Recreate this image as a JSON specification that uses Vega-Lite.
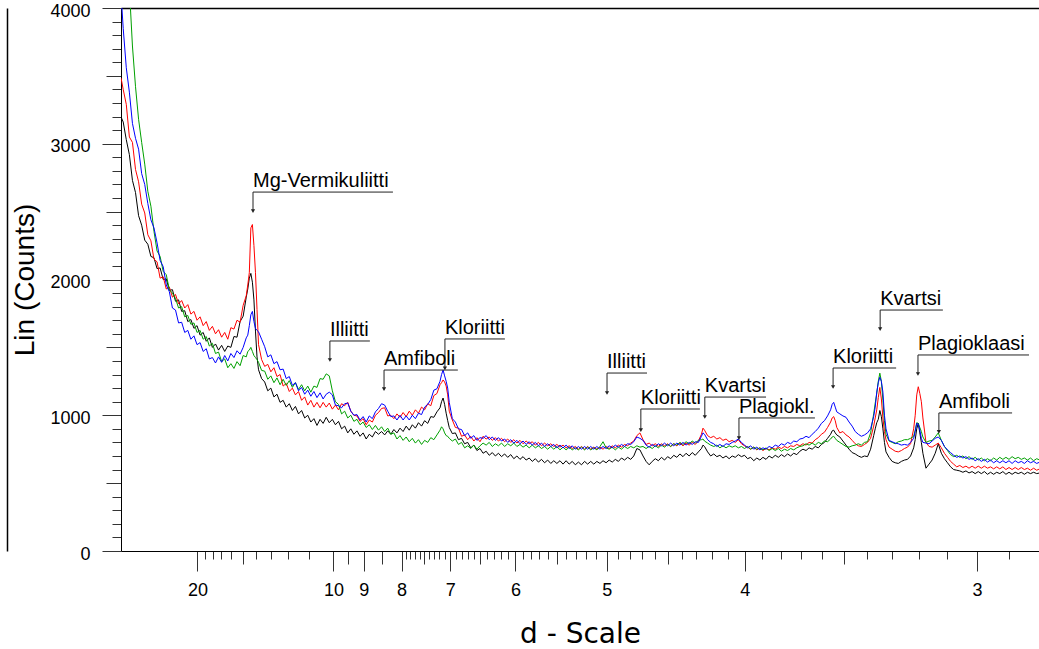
{
"$schema": "https://vega.github.io/schema/vega-lite/v6.json",
"width": 918, "height": 543,
"autosize": {"type": "none"},
"padding": {"left": 121, "top": 8, "right": 0, "bottom": 98},
"background": "white",
"config": {"view": {"stroke": null}, "font": "Liberation Sans"},
"resolve": {"axis": {"x": "independent", "y": "independent"}},
"datasets": {
"xrd": [
{"t":1.93,"k":3197,"r":3484,"g":5600,"b":4100},
{"t":2.0,"k":3160,"r":3400,"g":5000,"b":3850},
{"t":2.1,"k":3030,"r":3290,"g":4500,"b":3560},
{"t":2.2,"k":2920,"r":3050,"g":4150,"b":3380},
{"t":2.3,"k":2730,"r":3010,"g":3720,"b":3150},
{"t":2.4,"k":2640,"r":2810,"g":3420,"b":3040},
{"t":2.5,"k":2470,"r":2720,"g":3180,"b":2960},
{"t":2.6,"k":2400,"r":2555,"g":3010,"b":2780},
{"t":2.7,"k":2290,"r":2490,"g":2850,"b":2700},
{"t":2.8,"k":2260,"r":2330,"g":2650,"b":2560},
{"t":2.9,"k":2170,"r":2285,"g":2540,"b":2440},
{"t":3.0,"k":2160,"r":2150,"g":2355,"b":2380},
{"t":3.1,"k":2080,"r":2130,"g":2210,"b":2270},
{"t":3.2,"k":2085,"r":2010,"g":2170,"b":2140},
{"t":3.3,"k":2000,"r":2020,"g":2060,"b":2095},
{"t":3.4,"k":2005,"r":1930,"g":2035,"b":1960},
{"t":3.5,"k":1920,"r":1945,"g":1925,"b":1910},
{"t":3.6,"k":1925,"r":1870,"g":1900,"b":1790},
{"t":3.7,"k":1840,"r":1890,"g":1860,"b":1775},
{"t":3.8,"k":1850,"r":1820,"g":1790,"b":1680},
{"t":3.9,"k":1765,"r":1845,"g":1800,"b":1685},
{"t":4.0,"k":1770,"r":1790,"g":1725,"b":1610},
{"t":4.1,"k":1690,"r":1815,"g":1735,"b":1625},
{"t":4.2,"k":1705,"r":1745,"g":1670,"b":1560},
{"t":4.3,"k":1640,"r":1765,"g":1680,"b":1585},
{"t":4.4,"k":1660,"r":1700,"g":1610,"b":1520},
{"t":4.5,"k":1590,"r":1725,"g":1625,"b":1535},
{"t":4.6,"k":1610,"r":1660,"g":1560,"b":1470},
{"t":4.7,"k":1545,"r":1690,"g":1580,"b":1490},
{"t":4.8,"k":1570,"r":1625,"g":1510,"b":1415},
{"t":4.9,"k":1500,"r":1655,"g":1530,"b":1425},
{"t":5.0,"k":1525,"r":1600,"g":1455,"b":1385},
{"t":5.1,"k":1480,"r":1630,"g":1465,"b":1430},
{"t":5.2,"k":1515,"r":1575,"g":1395,"b":1390},
{"t":5.3,"k":1470,"r":1610,"g":1415,"b":1440},
{"t":5.4,"k":1510,"r":1560,"g":1350,"b":1400},
{"t":5.5,"k":1500,"r":1645,"g":1380,"b":1455},
{"t":5.6,"k":1580,"r":1635,"g":1345,"b":1425},
{"t":5.7,"k":1575,"r":1700,"g":1395,"b":1475},
{"t":5.8,"k":1690,"r":1685,"g":1365,"b":1450},
{"t":5.9,"k":1730,"r":1810,"g":1440,"b":1500},
{"t":6.0,"k":1870,"r":1880,"g":1430,"b":1570},
{"t":6.05,"k":1930,"r":1960,"g":1470,"b":1590},
{"t":6.1,"k":2010,"r":2050,"g":1480,"b":1660},
{"t":6.15,"k":2045,"r":2380,"g":1500,"b":1740},
{"t":6.2,"k":1980,"r":2405,"g":1470,"b":1765},
{"t":6.25,"k":1850,"r":2250,"g":1440,"b":1690},
{"t":6.3,"k":1620,"r":2050,"g":1425,"b":1640},
{"t":6.35,"k":1430,"r":1780,"g":1410,"b":1625},
{"t":6.4,"k":1335,"r":1520,"g":1390,"b":1615},
{"t":6.5,"k":1270,"r":1410,"g":1330,"b":1560},
{"t":6.6,"k":1245,"r":1360,"g":1325,"b":1505},
{"t":6.7,"k":1180,"r":1375,"g":1265,"b":1430},
{"t":6.8,"k":1200,"r":1320,"g":1290,"b":1445},
{"t":6.9,"k":1135,"r":1350,"g":1240,"b":1380},
{"t":7.0,"k":1155,"r":1285,"g":1275,"b":1395},
{"t":7.1,"k":1095,"r":1300,"g":1225,"b":1335},
{"t":7.2,"k":1110,"r":1215,"g":1265,"b":1340},
{"t":7.3,"k":1060,"r":1235,"g":1220,"b":1270},
{"t":7.4,"k":1085,"r":1175,"g":1255,"b":1285},
{"t":7.5,"k":1035,"r":1200,"g":1205,"b":1220},
{"t":7.6,"k":1065,"r":1150,"g":1240,"b":1240},
{"t":7.7,"k":1010,"r":1175,"g":1190,"b":1180},
{"t":7.8,"k":1035,"r":1110,"g":1225,"b":1205},
{"t":7.9,"k":980,"r":1135,"g":1180,"b":1155},
{"t":8.0,"k":1000,"r":1075,"g":1215,"b":1185},
{"t":8.1,"k":950,"r":1110,"g":1170,"b":1140},
{"t":8.2,"k":975,"r":1060,"g":1215,"b":1175},
{"t":8.3,"k":925,"r":1095,"g":1205,"b":1130},
{"t":8.4,"k":970,"r":1055,"g":1270,"b":1165},
{"t":8.5,"k":940,"r":1095,"g":1265,"b":1120},
{"t":8.6,"k":985,"r":1060,"g":1305,"b":1155},
{"t":8.7,"k":945,"r":1090,"g":1290,"b":1170},
{"t":8.8,"k":970,"r":1045,"g":1180,"b":1150},
{"t":8.9,"k":930,"r":1075,"g":1100,"b":1075},
{"t":9.0,"k":955,"r":1040,"g":1080,"b":1070},
{"t":9.1,"k":900,"r":1085,"g":1010,"b":1055},
{"t":9.2,"k":920,"r":1070,"g":1030,"b":1085},
{"t":9.3,"k":870,"r":1095,"g":980,"b":1090},
{"t":9.4,"k":900,"r":1030,"g":1000,"b":1030},
{"t":9.5,"k":860,"r":1000,"g":955,"b":1000},
{"t":9.6,"k":885,"r":995,"g":970,"b":1005},
{"t":9.7,"k":845,"r":955,"g":930,"b":965},
{"t":9.8,"k":870,"r":975,"g":950,"b":990},
{"t":9.9,"k":825,"r":930,"g":910,"b":950},
{"t":10.0,"k":860,"r":965,"g":930,"b":995},
{"t":10.1,"k":840,"r":950,"g":895,"b":975},
{"t":10.2,"k":880,"r":1000,"g":925,"b":1025},
{"t":10.3,"k":860,"r":1020,"g":890,"b":1050},
{"t":10.4,"k":880,"r":1050,"g":915,"b":1085},
{"t":10.5,"k":855,"r":1055,"g":880,"b":1075},
{"t":10.6,"k":885,"r":995,"g":905,"b":1030},
{"t":10.7,"k":860,"r":1000,"g":860,"b":990},
{"t":10.8,"k":895,"r":975,"g":870,"b":995},
{"t":10.9,"k":870,"r":1010,"g":825,"b":965},
{"t":11.0,"k":905,"r":985,"g":850,"b":1000},
{"t":11.1,"k":880,"r":1020,"g":815,"b":965},
{"t":11.2,"k":920,"r":990,"g":840,"b":995},
{"t":11.3,"k":890,"r":1030,"g":805,"b":965},
{"t":11.4,"k":930,"r":1000,"g":830,"b":1000},
{"t":11.5,"k":905,"r":1040,"g":795,"b":975},
{"t":11.6,"k":945,"r":1015,"g":820,"b":1015},
{"t":11.7,"k":920,"r":1060,"g":785,"b":1005},
{"t":11.8,"k":960,"r":1040,"g":815,"b":1060},
{"t":11.9,"k":940,"r":1085,"g":800,"b":1080},
{"t":12.0,"k":990,"r":1070,"g":835,"b":1115},
{"t":12.1,"k":985,"r":1145,"g":820,"b":1185},
{"t":12.2,"k":1025,"r":1160,"g":855,"b":1195},
{"t":12.3,"k":1055,"r":1225,"g":890,"b":1250},
{"t":12.35,"k":1100,"r":1240,"g":915,"b":1300},
{"t":12.4,"k":1127,"r":1260,"g":900,"b":1333},
{"t":12.45,"k":1080,"r":1245,"g":870,"b":1290},
{"t":12.5,"k":1015,"r":1215,"g":850,"b":1250},
{"t":12.55,"k":960,"r":1150,"g":845,"b":1200},
{"t":12.6,"k":910,"r":1030,"g":830,"b":1095},
{"t":12.7,"k":865,"r":965,"g":810,"b":975},
{"t":12.8,"k":870,"r":910,"g":825,"b":950},
{"t":12.9,"k":820,"r":905,"g":785,"b":900},
{"t":13.0,"k":830,"r":845,"g":800,"b":895},
{"t":13.1,"k":790,"r":855,"g":760,"b":850},
{"t":13.2,"k":800,"r":820,"g":775,"b":870},
{"t":13.3,"k":760,"r":845,"g":755,"b":830},
{"t":13.4,"k":780,"r":810,"g":780,"b":850},
{"t":13.5,"k":740,"r":835,"g":750,"b":815},
{"t":13.6,"k":755,"r":805,"g":775,"b":835},
{"t":13.7,"k":720,"r":845,"g":795,"b":830},
{"t":13.8,"k":735,"r":825,"g":780,"b":850},
{"t":13.9,"k":705,"r":840,"g":800,"b":820},
{"t":14.0,"k":725,"r":815,"g":770,"b":840},
{"t":14.1,"k":700,"r":835,"g":790,"b":815},
{"t":14.2,"k":720,"r":810,"g":775,"b":835},
{"t":14.3,"k":695,"r":830,"g":795,"b":810},
{"t":14.4,"k":715,"r":805,"g":770,"b":825},
{"t":14.5,"k":690,"r":825,"g":790,"b":800},
{"t":14.6,"k":710,"r":800,"g":775,"b":820},
{"t":14.7,"k":680,"r":820,"g":795,"b":795},
{"t":14.8,"k":700,"r":795,"g":770,"b":815},
{"t":14.9,"k":675,"r":815,"g":785,"b":790},
{"t":15.0,"k":695,"r":790,"g":765,"b":810},
{"t":15.1,"k":670,"r":810,"g":780,"b":785},
{"t":15.2,"k":685,"r":790,"g":760,"b":805},
{"t":15.3,"k":660,"r":805,"g":780,"b":780},
{"t":15.4,"k":680,"r":780,"g":760,"b":800},
{"t":15.5,"k":655,"r":800,"g":775,"b":775},
{"t":15.6,"k":675,"r":775,"g":755,"b":795},
{"t":15.7,"k":650,"r":795,"g":770,"b":770},
{"t":15.8,"k":670,"r":775,"g":750,"b":790},
{"t":15.9,"k":645,"r":790,"g":770,"b":770},
{"t":16.0,"k":665,"r":770,"g":750,"b":785},
{"t":16.1,"k":645,"r":785,"g":770,"b":760},
{"t":16.2,"k":665,"r":765,"g":745,"b":780},
{"t":16.3,"k":640,"r":780,"g":765,"b":760},
{"t":16.4,"k":665,"r":760,"g":745,"b":780},
{"t":16.5,"k":640,"r":775,"g":765,"b":755},
{"t":16.6,"k":660,"r":755,"g":745,"b":775},
{"t":16.7,"k":635,"r":770,"g":760,"b":750},
{"t":16.8,"k":655,"r":750,"g":745,"b":770},
{"t":16.9,"k":635,"r":770,"g":765,"b":750},
{"t":17.0,"k":660,"r":750,"g":745,"b":770},
{"t":17.1,"k":640,"r":770,"g":765,"b":750},
{"t":17.2,"k":660,"r":750,"g":745,"b":770},
{"t":17.3,"k":640,"r":765,"g":760,"b":750},
{"t":17.4,"k":660,"r":750,"g":745,"b":770},
{"t":17.5,"k":645,"r":765,"g":770,"b":750},
{"t":17.6,"k":665,"r":750,"g":805,"b":770},
{"t":17.7,"k":650,"r":770,"g":760,"b":755},
{"t":17.8,"k":670,"r":755,"g":750,"b":775},
{"t":17.9,"k":655,"r":775,"g":765,"b":760},
{"t":18.0,"k":675,"r":760,"g":745,"b":780},
{"t":18.1,"k":660,"r":780,"g":765,"b":765},
{"t":18.2,"k":685,"r":765,"g":750,"b":785},
{"t":18.3,"k":670,"r":785,"g":770,"b":770},
{"t":18.4,"k":690,"r":775,"g":755,"b":790},
{"t":18.5,"k":675,"r":795,"g":770,"b":785},
{"t":18.6,"k":700,"r":810,"g":760,"b":805},
{"t":18.7,"k":755,"r":850,"g":775,"b":840},
{"t":18.8,"k":745,"r":870,"g":765,"b":830},
{"t":18.9,"k":700,"r":820,"g":770,"b":815},
{"t":19.0,"k":660,"r":785,"g":755,"b":780},
{"t":19.1,"k":635,"r":795,"g":770,"b":765},
{"t":19.2,"k":660,"r":775,"g":755,"b":785},
{"t":19.3,"k":680,"r":790,"g":775,"b":770},
{"t":19.4,"k":665,"r":770,"g":760,"b":790},
{"t":19.5,"k":690,"r":790,"g":780,"b":775},
{"t":19.6,"k":670,"r":775,"g":765,"b":795},
{"t":19.7,"k":695,"r":790,"g":785,"b":775},
{"t":19.8,"k":680,"r":770,"g":770,"b":795},
{"t":19.9,"k":705,"r":790,"g":790,"b":775},
{"t":20.0,"k":690,"r":775,"g":780,"b":795},
{"t":20.1,"k":715,"r":795,"g":800,"b":780},
{"t":20.2,"k":695,"r":775,"g":785,"b":800},
{"t":20.3,"k":720,"r":795,"g":805,"b":780},
{"t":20.4,"k":700,"r":780,"g":790,"b":800},
{"t":20.5,"k":725,"r":800,"g":810,"b":785},
{"t":20.6,"k":705,"r":785,"g":795,"b":805},
{"t":20.7,"k":730,"r":810,"g":815,"b":800},
{"t":20.8,"k":755,"r":860,"g":820,"b":845},
{"t":20.85,"k":780,"r":905,"g":825,"b":870},
{"t":20.9,"k":770,"r":890,"g":810,"b":860},
{"t":21.0,"k":730,"r":850,"g":795,"b":820},
{"t":21.1,"k":700,"r":835,"g":780,"b":800},
{"t":21.2,"k":715,"r":845,"g":770,"b":790},
{"t":21.3,"k":695,"r":825,"g":780,"b":770},
{"t":21.4,"k":705,"r":835,"g":760,"b":785},
{"t":21.5,"k":685,"r":815,"g":775,"b":770},
{"t":21.6,"k":700,"r":825,"g":760,"b":790},
{"t":21.7,"k":680,"r":805,"g":775,"b":785},
{"t":21.8,"k":700,"r":815,"g":765,"b":800},
{"t":21.9,"k":690,"r":800,"g":775,"b":810},
{"t":22.0,"k":710,"r":820,"g":760,"b":825},
{"t":22.1,"k":695,"r":790,"g":770,"b":800},
{"t":22.2,"k":705,"r":775,"g":755,"b":780},
{"t":22.3,"k":680,"r":765,"g":770,"b":760},
{"t":22.4,"k":690,"r":750,"g":750,"b":775},
{"t":22.5,"k":665,"r":765,"g":765,"b":750},
{"t":22.6,"k":685,"r":745,"g":750,"b":765},
{"t":22.7,"k":670,"r":760,"g":760,"b":745},
{"t":22.8,"k":690,"r":740,"g":745,"b":760},
{"t":22.9,"k":675,"r":755,"g":760,"b":750},
{"t":23.0,"k":700,"r":745,"g":740,"b":770},
{"t":23.1,"k":685,"r":760,"g":755,"b":760},
{"t":23.2,"k":705,"r":750,"g":740,"b":780},
{"t":23.3,"k":690,"r":765,"g":755,"b":770},
{"t":23.4,"k":710,"r":755,"g":735,"b":790},
{"t":23.5,"k":695,"r":770,"g":750,"b":780},
{"t":23.6,"k":715,"r":760,"g":740,"b":800},
{"t":23.7,"k":700,"r":775,"g":755,"b":790},
{"t":23.8,"k":720,"r":770,"g":745,"b":810},
{"t":23.9,"k":710,"r":785,"g":760,"b":805},
{"t":24.0,"k":735,"r":775,"g":770,"b":825},
{"t":24.1,"k":750,"r":790,"g":775,"b":830},
{"t":24.2,"k":740,"r":780,"g":790,"b":845},
{"t":24.3,"k":760,"r":800,"g":780,"b":835},
{"t":24.4,"k":750,"r":795,"g":795,"b":860},
{"t":24.5,"k":770,"r":820,"g":780,"b":880},
{"t":24.6,"k":760,"r":835,"g":800,"b":905},
{"t":24.7,"k":785,"r":860,"g":790,"b":940},
{"t":24.8,"k":800,"r":875,"g":810,"b":960},
{"t":24.9,"k":830,"r":910,"g":805,"b":995},
{"t":25.0,"k":860,"r":950,"g":825,"b":1040},
{"t":25.05,"k":885,"r":980,"g":840,"b":1080},
{"t":25.1,"k":890,"r":990,"g":845,"b":1095},
{"t":25.15,"k":870,"r":960,"g":830,"b":1060},
{"t":25.2,"k":855,"r":910,"g":815,"b":1025},
{"t":25.3,"k":840,"r":870,"g":800,"b":1010},
{"t":25.4,"k":810,"r":880,"g":785,"b":995},
{"t":25.5,"k":780,"r":855,"g":770,"b":985},
{"t":25.6,"k":750,"r":840,"g":765,"b":950},
{"t":25.7,"k":725,"r":815,"g":775,"b":920},
{"t":25.8,"k":715,"r":790,"g":780,"b":880},
{"t":25.9,"k":700,"r":775,"g":790,"b":860},
{"t":26.0,"k":690,"r":770,"g":780,"b":845},
{"t":26.1,"k":700,"r":785,"g":800,"b":855},
{"t":26.2,"k":695,"r":800,"g":805,"b":870},
{"t":26.3,"k":750,"r":830,"g":870,"b":900},
{"t":26.4,"k":850,"r":920,"g":1010,"b":990},
{"t":26.45,"k":900,"r":980,"g":1090,"b":1060},
{"t":26.5,"k":945,"r":1040,"g":1160,"b":1170},
{"t":26.55,"k":970,"r":1130,"g":1250,"b":1240},
{"t":26.6,"k":1035,"r":1205,"g":1310,"b":1280},
{"t":26.65,"k":990,"r":1120,"g":1250,"b":1250},
{"t":26.7,"k":900,"r":980,"g":1110,"b":1170},
{"t":26.75,"k":800,"r":880,"g":960,"b":1000},
{"t":26.8,"k":730,"r":820,"g":860,"b":900},
{"t":26.9,"k":690,"r":765,"g":810,"b":815},
{"t":27.0,"k":660,"r":750,"g":800,"b":805},
{"t":27.1,"k":650,"r":735,"g":790,"b":795},
{"t":27.2,"k":645,"r":730,"g":805,"b":790},
{"t":27.3,"k":660,"r":740,"g":810,"b":780},
{"t":27.4,"k":670,"r":755,"g":820,"b":785},
{"t":27.5,"k":675,"r":765,"g":820,"b":780},
{"t":27.6,"k":700,"r":790,"g":830,"b":800},
{"t":27.7,"k":760,"r":900,"g":845,"b":830},
{"t":27.75,"k":820,"r":1000,"g":890,"b":880},
{"t":27.8,"k":900,"r":1150,"g":945,"b":940},
{"t":27.85,"k":940,"r":1210,"g":940,"b":935},
{"t":27.9,"k":870,"r":1160,"g":910,"b":890},
{"t":27.95,"k":800,"r":1100,"g":880,"b":830},
{"t":28.0,"k":720,"r":980,"g":840,"b":800},
{"t":28.1,"k":610,"r":800,"g":800,"b":795},
{"t":28.2,"k":640,"r":770,"g":810,"b":790},
{"t":28.3,"k":670,"r":765,"g":815,"b":810},
{"t":28.4,"k":720,"r":780,"g":840,"b":830},
{"t":28.5,"k":790,"r":795,"g":870,"b":840},
{"t":28.6,"k":720,"r":760,"g":815,"b":815},
{"t":28.7,"k":680,"r":720,"g":770,"b":770},
{"t":28.8,"k":650,"r":690,"g":740,"b":745},
{"t":28.9,"k":620,"r":660,"g":710,"b":725},
{"t":29.0,"k":600,"r":640,"g":695,"b":705},
{"t":29.1,"k":595,"r":620,"g":705,"b":690},
{"t":29.2,"k":590,"r":630,"g":690,"b":700},
{"t":29.3,"k":580,"r":615,"g":700,"b":685},
{"t":29.4,"k":590,"r":625,"g":680,"b":695},
{"t":29.5,"k":575,"r":610,"g":695,"b":675},
{"t":29.6,"k":585,"r":625,"g":675,"b":685},
{"t":29.7,"k":570,"r":610,"g":690,"b":665},
{"t":29.8,"k":585,"r":625,"g":670,"b":680},
{"t":29.9,"k":570,"r":610,"g":685,"b":660},
{"t":30.0,"k":585,"r":625,"g":665,"b":675},
{"t":30.1,"k":565,"r":610,"g":680,"b":655},
{"t":30.2,"k":580,"r":620,"g":665,"b":670},
{"t":30.3,"k":565,"r":605,"g":685,"b":650},
{"t":30.4,"k":580,"r":620,"g":670,"b":665},
{"t":30.5,"k":570,"r":605,"g":690,"b":650},
{"t":30.6,"k":585,"r":620,"g":675,"b":665},
{"t":30.7,"k":565,"r":600,"g":690,"b":650},
{"t":30.8,"k":580,"r":615,"g":675,"b":665},
{"t":30.9,"k":565,"r":600,"g":695,"b":645},
{"t":31.0,"k":580,"r":615,"g":680,"b":665},
{"t":31.1,"k":570,"r":600,"g":690,"b":650},
{"t":31.2,"k":580,"r":615,"g":675,"b":660},
{"t":31.3,"k":565,"r":600,"g":685,"b":645},
{"t":31.4,"k":580,"r":610,"g":670,"b":665},
{"t":31.5,"k":570,"r":595,"g":685,"b":650},
{"t":31.6,"k":580,"r":610,"g":665,"b":660},
{"t":31.7,"k":570,"r":595,"g":680,"b":645},
{"t":31.8,"k":575,"r":605,"g":670,"b":655}
],
"ann": [
{"label":"Mg-Vermikuliitti","x1":6.22,"x2":10.77,"yl":2644,"tip":2504},
{"label":"Illiitti","x1":8.72,"x2":10.02,"yl":1547,"tip":1407},
{"label":"Amfiboli","x1":10.48,"x2":12.88,"yl":1333,"tip":1193},
{"label":"Kloriitti","x1":12.46,"x2":14.41,"yl":1562,"tip":1345},
{"label":"Illiitti","x1":17.73,"x2":19.03,"yl":1311,"tip":1164},
{"label":"Kloriitti","x1":18.83,"x2":20.75,"yl":1046,"tip":891},
{"label":"Kvartsi","x1":20.91,"x2":22.9,"yl":1134,"tip":987},
{"label":"Plagiokl.","x1":22.02,"x2":24.49,"yl":980,"tip":832},
{"label":"Kloriitti","x1":25.08,"x2":27.13,"yl":1348,"tip":1208},
{"label":"Kvartsi","x1":26.61,"x2":28.65,"yl":1775,"tip":1635},
{"label":"Plagioklaasi","x1":27.84,"x2":31.45,"yl":1444,"tip":1304},
{"label":"Amfiboli","x1":28.52,"x2":30.9,"yl":1017,"tip":877}
]
},
"layer": [
{"data": {"name": "xrd"},
 "mark": {"type": "line", "color": "#000000", "strokeWidth": 1, "clip": true},
 "encoding": {
  "x": {"field": "t", "type": "quantitative", "scale": {"domain": [1.928, 31.775], "nice": false, "zero": false},
   "axis": {"orient": "bottom", "grid": false,
    "values": [4.4146,4.6471,4.9054,5.1942,5.5191,5.8873,6.3081,6.794,7.3609,8.0311,8.8358,9.3018,9.8198,10.3991,11.051,11.1912,11.3351,11.4829,11.6344,11.7902,11.9501,12.1144,12.2832,12.4569,12.6356,12.8195,13.0088,13.2038,13.4047,13.6121,13.8256,14.0462,14.2739,14.5092,14.7522,15.0037,15.2639,15.5333,15.8126,16.102,16.4021,16.7138,17.0376,17.3742,17.7245,18.0892,18.4693,18.8659,19.2799,19.7126,20.1652,20.6392,21.1362,21.6578,22.2061,22.783,23.3909,24.0324,24.7104,25.4283,26.1893,26.9976,27.8581,28.7758,29.7567,30.8077],
    "labelExpr": "indexof([4.4146,8.8358,9.8198,11.051,12.6356,14.7522,17.7245,22.2061,29.7567], datum.value) >= 0 ? '' + round(0.7703 / sin(datum.value * PI / 360)) : ''",
    "tickSize": {"condition": [
      {"test": "indexof([4.4146,8.8358,9.8198,11.051,12.6356,14.7522,17.7245,22.2061,29.7567], datum.value) >= 0", "value": 20},
      {"test": "indexof([5.8873,9.3018,10.3991,11.7902,13.6121,16.102,19.7126,25.4283], datum.value) >= 0", "value": 13}],
     "value": 8},
    "labelOverlap": false, "labelFlush": false, "labelFontSize": 18, "labelColor": "#000000", "labelPadding": 10,
    "domainColor": "#000000", "tickColor": "#333333",
    "title": "d - Scale", "titleFont": "DejaVu Sans", "titleFontSize": 28, "titleFontWeight": "normal", "titleColor": "#000000", "titlePadding": 21}},
  "y": {"field": "k", "type": "quantitative", "scale": {"domain": [0, 4000], "nice": false},
   "axis": {"orient": "left", "grid": false,
    "values": [0,100,200,300,400,500,600,700,800,900,1000,1100,1200,1300,1400,1500,1600,1700,1800,1900,2000,2100,2200,2300,2400,2500,2600,2700,2800,2900,3000,3100,3200,3300,3400,3500,3600,3700,3800,3900,4000],
    "format": "d",
    "labelExpr": "datum.value % 1000 === 0 ? datum.label : ''",
    "tickSize": {"condition": [
      {"test": "datum.value % 1000 === 0", "value": 19},
      {"test": "datum.value % 500 === 0", "value": 15}],
     "value": 9},
    "labelOverlap": false, "labelFontSize": 18, "labelColor": "#000000", "labelPadding": 12, "labelOffset": 3,
    "domainColor": "#000000", "tickColor": "#333333",
    "title": "Lin (Counts)", "titleFontSize": 28, "titleFontWeight": "normal", "titleColor": "#000000", "titlePadding": 10}}
 }},
{"data": {"name": "xrd"},
 "mark": {"type": "line", "color": "#ff0000", "strokeWidth": 1, "clip": true},
 "encoding": {
  "x": {"field": "t", "type": "quantitative", "scale": {"domain": [1.928, 31.775], "nice": false, "zero": false}, "axis": null},
  "y": {"field": "r", "type": "quantitative", "scale": {"domain": [0, 4000], "nice": false}, "axis": null}}},
{"data": {"name": "xrd"},
 "mark": {"type": "line", "color": "#00a000", "strokeWidth": 1, "clip": true},
 "encoding": {
  "x": {"field": "t", "type": "quantitative", "scale": {"domain": [1.928, 31.775], "nice": false, "zero": false}, "axis": null},
  "y": {"field": "g", "type": "quantitative", "scale": {"domain": [0, 4000], "nice": false}, "axis": null}}},
{"data": {"name": "xrd"},
 "mark": {"type": "line", "color": "#0000ff", "strokeWidth": 1, "clip": true},
 "encoding": {
  "x": {"field": "t", "type": "quantitative", "scale": {"domain": [1.928, 31.775], "nice": false, "zero": false},
   "axis": {"orient": "top", "ticks": false, "labels": false, "domain": true, "domainColor": "#000000", "domainWidth": 1.5, "title": null, "grid": false}},
  "y": {"field": "b", "type": "quantitative", "scale": {"domain": [0, 4000], "nice": false},
   "axis": {"orient": "left", "offset": 114, "ticks": false, "labels": false, "domain": true, "domainColor": "#000000", "domainWidth": 1.5, "title": null, "grid": false}}}},
{"data": {"name": "ann"},
 "mark": {"type": "rule", "color": "#222222", "strokeWidth": 1},
 "encoding": {
  "x": {"field": "x1", "type": "quantitative", "scale": {"domain": [1.928, 31.775], "nice": false, "zero": false}, "axis": null},
  "x2": {"field": "x2"},
  "y": {"field": "yl", "type": "quantitative", "scale": {"domain": [0, 4000], "nice": false}, "axis": null}}},
{"data": {"name": "ann"},
 "mark": {"type": "rule", "color": "#222222", "strokeWidth": 1},
 "encoding": {
  "x": {"field": "x1", "type": "quantitative", "scale": {"domain": [1.928, 31.775], "nice": false, "zero": false}, "axis": null},
  "y": {"field": "yl", "type": "quantitative", "scale": {"domain": [0, 4000], "nice": false}, "axis": null},
  "y2": {"field": "tip"}}},
{"data": {"name": "ann"},
 "mark": {"type": "point", "shape": "triangle-down", "filled": true, "color": "#222222", "size": 18, "opacity": 1},
 "encoding": {
  "x": {"field": "x1", "type": "quantitative", "scale": {"domain": [1.928, 31.775], "nice": false, "zero": false}, "axis": null},
  "y": {"field": "tip", "type": "quantitative", "scale": {"domain": [0, 4000], "nice": false}, "axis": null}}},
{"data": {"name": "ann"},
 "mark": {"type": "text", "align": "left", "baseline": "alphabetic", "dy": -5, "fontSize": 20, "font": "Liberation Sans", "color": "#000000"},
 "encoding": {
  "x": {"field": "x1", "type": "quantitative", "scale": {"domain": [1.928, 31.775], "nice": false, "zero": false}, "axis": null},
  "y": {"field": "yl", "type": "quantitative", "scale": {"domain": [0, 4000], "nice": false}, "axis": null},
  "text": {"field": "label"}}}
]
}
